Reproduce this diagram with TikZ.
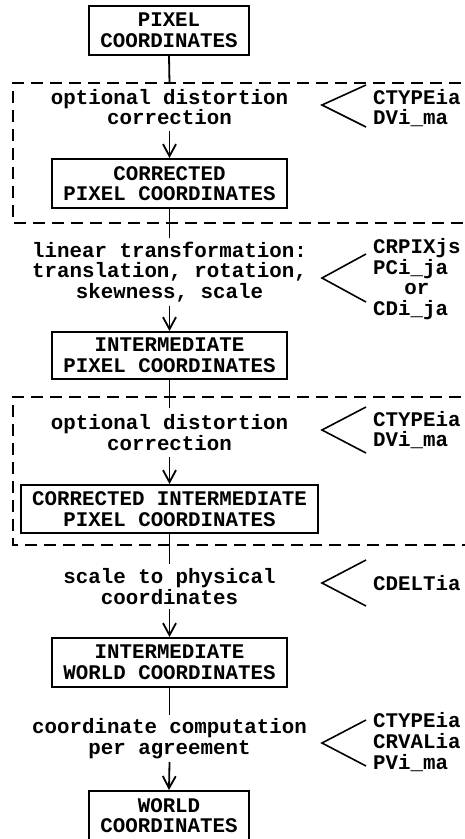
\documentclass[tikz,border=0pt]{standalone}
\usepackage{fontspec}
\setmainfont{Liberation Mono}
\usetikzlibrary{arrows.meta}
\begin{document}
\begin{tikzpicture}[x=1pt,y=-1pt,
  font=\fontsize{20.8}{20.6}\selectfont\bfseries,
  box/.style={draw, line width=2pt, align=center, inner sep=0pt, minimum height=48pt},
  txt/.style={align=center, inner sep=0pt},
  lab/.style={align=left, anchor=west, inner sep=0pt},
  conn/.style={line width=1.8pt},
  arr/.style={conn, -{Straight Barb[length=12pt,width=13pt]}},
  brk/.style={line width=1.6pt},
  dbox/.style={dash pattern=on 12pt off 7pt, line width=1.3pt}
]
\useasboundingbox (0,0) rectangle (465,839);

% dashed groups
\draw[dbox] (480,83) -- (13,83) -- (13,223) -- (480,223);
\draw[dbox] (480,397) -- (13,397) -- (13,545) -- (480,545);

% boxes
\node[box, minimum width=160pt, minimum height=49pt] (b1) at (169,30.5) {PIXEL\\COORDINATES};
\node[box, minimum width=235pt, minimum height=49pt] (b2) at (169.5,183.5) {CORRECTED\\PIXEL COORDINATES};
\node[box, minimum width=235pt, minimum height=47pt] (b3) at (169.5,355.5) {INTERMEDIATE\\PIXEL COORDINATES};
\node[box, minimum width=297pt, minimum height=48pt] (b4) at (169.5,509) {CORRECTED INTERMEDIATE\\PIXEL COORDINATES};
\node[box, minimum width=235pt, minimum height=49pt] (b5) at (169.5,662.5) {INTERMEDIATE\\WORLD COORDINATES};
\node[box, minimum width=160pt, minimum height=49pt] (b6) at (169,815.5) {WORLD\\COORDINATES};

% process texts
\node[txt, minimum height=47pt] (t1) at (169.5,107) {optional distortion\\correction};
\node[txt, minimum height=67pt] (t2) at (169.5,272) {linear transformation:\\translation, rotation,\\skewness, scale};
\node[txt, minimum height=49pt] (t3) at (169.5,432.5) {optional distortion\\correction};
\node[txt, minimum height=45pt] (t4) at (169.5,586.5) {scale to physical\\coordinates};
\node[txt, minimum height=47pt] (t5) at (169.5,738.5) {coordinate computation\\per agreement};

% connectors
\draw[conn] (b1.south) -- (t1.north);
\draw[arr] (t1.south) -- (b2.north);
\draw[conn] (b2.south) -- (t2.north);
\draw[arr] (t2.south) -- (b3.north);
\draw[conn] (b3.south) -- (t3.north);
\draw[arr] (t3.south) -- (b4.north);
\draw[conn] (b4.south) -- (t4.north);
\draw[arr] (t4.south) -- (b5.north);
\draw[conn] (b5.south) -- (t5.north);
\draw[arr] (t5.south) -- (b6.north);

% keyword labels
\node[lab] (k1) at (373,108) {CTYPEia\\DVi\_ma};
\node[lab] (k2) at (373,279) {CRPIXjs\\PCi\_ja\\\hspace*{1.5em}or\\CDi\_ja};
\node[lab] (k3) at (373,430) {CTYPEia\\DVi\_ma};
\node[lab] (k4) at (373,583) {CDELTia};
\node[lab] (k5) at (373,742) {CTYPEia\\CRVALia\\PVi\_ma};

% brackets
\draw[brk] (366,85) -- (322,105) -- (366,127);
\draw[brk] (366,254) -- (322,278) -- (366,302);
\draw[brk] (366,407) -- (322,430) -- (366,453);
\draw[brk] (366,560) -- (322,583) -- (366,606);
\draw[brk] (366,720) -- (322,743) -- (366,766);
\end{tikzpicture}
\end{document}
